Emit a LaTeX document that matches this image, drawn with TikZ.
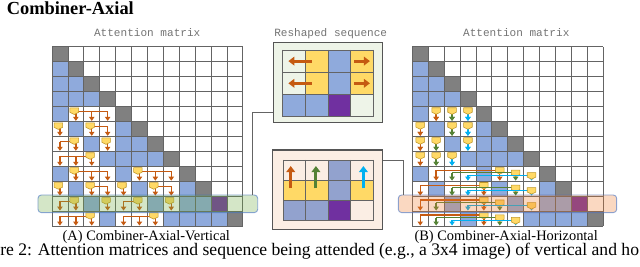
\documentclass[tikz,border=0pt]{standalone}
\usepackage{fontspec}
\setmainfont{Liberation Serif}
\setmonofont{Liberation Mono}
\usepackage{tikz}
\usetikzlibrary{positioning,arrows.meta}
\definecolor{cellblue}{RGB}{143,170,220}
\definecolor{seqblue}{RGB}{146,162,206}
\definecolor{diaggray}{RGB}{128,128,128}
\definecolor{tokyellow}{RGB}{255,217,102}
\definecolor{tokedge}{RGB}{191,150,40}
\definecolor{tokpurple}{RGB}{112,48,160}
\definecolor{arrorange}{RGB}{197,90,17}
\definecolor{arrgreen}{RGB}{84,130,53}
\definecolor{arrcyan}{RGB}{0,176,240}
\definecolor{bandgreen}{RGB}{112,173,71}
\definecolor{bandorange}{RGB}{237,125,49}
\definecolor{bandedge}{RGB}{68,114,196}
\definecolor{seqgreen}{RGB}{238,244,232}
\definecolor{seqpeach}{RGB}{251,238,228}
\definecolor{lineclr}{RGB}{100,100,100}
\definecolor{labgray}{RGB}{115,115,115}

\newcommand{\tokmark}[2]{\filldraw[tokm] (#1-.27,#2) -- ++(.54,0) -- ++(0,.3) -- ++(-.27,.14) -- ++(-.27,-.14) -- cycle;}
\newcommand{\attnbase}{%
  \foreach \r/\cs in {1/{0},2/{0,1},3/{0,1,2},4/{0},5/{1,4},6/{2,4,5},7/{3,4,5,6},8/{0,4},9/{1,5,8},10/{2,6,8,9},11/{3,7,8,9,10}}
    \foreach \c in \cs \fill[cellblue] (\c,\r) rectangle ++(1,1);
  \foreach \i in {0,...,11} \fill[diaggray] (\i,\i) rectangle ++(1,1);
  \fill[tokpurple] (10,10) rectangle ++(1,1);
  \foreach \i in {0,...,12} {\draw[cellln] (\i,0) -- (\i,12); \draw[cellln] (0,\i) -- (12,\i);}
}

\begin{document}
\begin{tikzpicture}[
    x=0.75pt, y=-0.75pt,
    cellln/.style={draw=lineclr, line width=0.6pt},
    sumln/.style={draw=#1, line width=1pt},
    sumarr/.style={draw=#1, line width=1pt, -{Triangle[length=3pt,width=4pt]}},
    bigarr/.style={draw=#1, line width=2.2pt, -{Triangle[length=4.5pt,width=6.5pt]}},
    tokm/.style={fill=tokyellow, draw=tokedge, line width=0.4pt},
    seqbox/.style={draw=lineclr!85!black, line width=0.8pt},
    vband/.style={draw=bandedge, draw opacity=0.6, fill=bandgreen, fill opacity=0.3, rounded corners=2.5pt,
        line width=0.7pt, minimum width=164.8pt, minimum height=13.2pt, inner sep=0pt},
    hband/.style={draw=bandedge, draw opacity=0.6, fill=bandorange, fill opacity=0.3, rounded corners=2.5pt,
        line width=0.7pt, minimum width=163.8pt, minimum height=13.2pt, inner sep=0pt},
    link/.style={draw=lineclr, line width=0.75pt},
    mono/.style={text=labgray, font=\ttfamily\fontsize{8.3pt}{9pt}\selectfont, inner sep=0pt, anchor=base},
    lab/.style={font=\fontsize{10.8pt}{12pt}\selectfont, inner sep=0pt, anchor=base, text depth=0pt}
]
\useasboundingbox (0,0) rectangle (640,267);

\node[anchor=base west, inner sep=0pt, font=\bfseries\fontsize{13.8pt}{15pt}\selectfont] (ttl) at (6.5,15) {Combiner-Axial};
\node[mono] (matA) at (147.2,36.7) {Attention matrix};
\node[mono] (matB) at (516.3,36.7) {Attention matrix};
\node[mono] (seqlab) at (330.7,36.7) {Reshaped sequence};

\begin{scope}[shift={(52,46.9)}, x=11.925pt, y=-11.2125pt]
\attnbase
\foreach \r/\a/\b/\m in {4/1/3/1, 5/0/0/0, 5/2/3/2, 6/0/1/1, 6/3/3/3, 7/0/2/2, 8/1/3/1, 8/5/7/5, 9/0/0/0, 9/2/3/2,
    9/4/4/4, 9/6/7/6, 10/0/1/1, 10/3/3/3, 10/4/5/5, 10/7/7/7, 11/0/2/2, 11/4/6/6} {
  \draw[sumln=arrorange] (\a+.5,\r+.33) -- (\b+.5,\r+.33);
  \foreach \k in {\a,...,\b} \draw[sumarr=arrorange] (\k+.5,\r+.33) -- (\k+.5,\r+.95);
  \tokmark{\m+.4}{\r+.08}
}
\end{scope}

\begin{scope}[shift={(412.3,46.9)}, x=11.925pt, y=-11.2125pt]
\attnbase
\foreach \r/\a/\b/\cl/\lv in {4/1/1/arrorange/0, 4/2/2/arrgreen/0, 4/3/3/arrcyan/0, 5/0/0/arrorange/0, 5/2/2/arrgreen/0,
    5/3/3/arrcyan/0, 6/0/0/arrorange/0, 6/1/1/arrgreen/0, 6/3/3/arrcyan/0, 7/0/0/arrorange/0, 7/1/1/arrgreen/0,
    7/2/2/arrcyan/0, 8/1/5/arrorange/0, 8/2/6/arrgreen/1, 8/3/7/arrcyan/2, 9/0/4/arrorange/0, 9/2/6/arrgreen/1,
    9/3/7/arrcyan/2, 10/0/4/arrorange/0, 10/1/5/arrgreen/1, 10/3/7/arrcyan/2, 11/0/4/arrorange/0, 11/1/5/arrgreen/1,
    11/2/6/arrcyan/2} {
  \pgfmathsetmacro\yb{\r+.25+.17*\lv}
  \draw[sumln=\cl] (\a+.5,\yb) -- (\b+.5,\yb);
  \draw[sumarr=\cl] (\a+.5,\yb) -- (\a+.5,\r+.95);
  \draw[sumarr=\cl] (\b+.5,\yb) -- (\b+.5,\r+.95);
  \tokmark{\b+.5}{\yb-.18}
}
\end{scope}

\node[vband] (bandV) at (147.85,203.8) {};
\node[hband] (bandH) at (507.5,203.8) {};

\node[seqbox, fill=seqgreen, minimum width=82pt, minimum height=59.7pt] (seqV) at (328,82.5) {};
\begin{scope}[shift={(282.7,50)}, x=16.99pt, y=-16.65pt]
\foreach \c/\r in {1/0,3/0,1/1,3/1} \fill[tokyellow] (\c,\r) rectangle ++(1,1);
\foreach \c/\r in {2/0,2/1,0/2,1/2} \fill[cellblue] (\c,\r) rectangle ++(1,1);
\fill[tokpurple] (2,2) rectangle ++(1,1);
\foreach \i in {0,...,4} \draw[cellln] (\i,0) -- (\i,3);
\foreach \i in {0,...,3} \draw[cellln] (0,\i) -- (4,\i);
\foreach \r in {0.5,1.5} {
  \draw[bigarr=arrorange] (1.28,\r) -- (0.25,\r);
  \draw[bigarr=arrorange] (3.15,\r) -- (3.85,\r);
}
\end{scope}

\node[seqbox, fill=seqpeach, minimum width=82.5pt, minimum height=59.5pt] (seqH) at (327.7,189.65) {};
\begin{scope}[shift={(283.3,160)}, x=16.875pt, y=-15.15pt]
\foreach \c/\r in {0/1,1/1,3/1} \fill[tokyellow] (\c,\r) rectangle ++(1,1);
\foreach \c/\r in {2/0,2/1,0/2,1/2} \fill[seqblue] (\c,\r) rectangle ++(1,1);
\fill[tokpurple] (2,2) rectangle ++(1,1);
\foreach \i in {0,...,4} \draw[cellln] (\i,0) -- (\i,3);
\foreach \i in {0,...,3} \draw[cellln] (0,\i) -- (4,\i);
\draw[bigarr=arrorange] (0.33,1.4) -- (0.33,0.3);
\draw[bigarr=arrgreen] (1.45,1.4) -- (1.45,0.3);
\draw[bigarr=arrcyan] (3.56,1.4) -- (3.56,0.3);
\end{scope}

\draw[link] ([yshift=-22.65pt]seqV.west) -| ([xshift=-4.5pt]bandV.north east);
\draw[link] ([yshift=21.7pt]seqH.east) -| ([xshift=4.3pt]bandH.north west);

\node[lab] (capA) at (146.3,240.6) {(A) Combiner-Axial-Vertical};
\node[lab] (capB) at (506.2,240.6) {(B) Combiner-Axial-Horizontal};
\node[anchor=base west, inner sep=0pt, text height=7pt, font=\fontsize{13.2pt}{14pt}\selectfont] (fig) at (0,256)
    {re 2: Attention matrices and sequence being attended (e.g., a 3x4 image) of vertical and ho};
\end{tikzpicture}
\end{document}
